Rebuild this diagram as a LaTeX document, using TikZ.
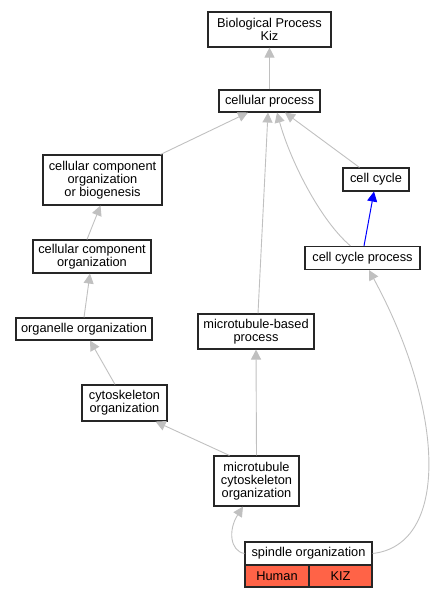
\documentclass[tikz,border=0pt]{standalone}
\usepackage{fontspec}
\setmainfont{Liberation Sans}
\usetikzlibrary{arrows.meta,calc}
\definecolor{edgegray}{RGB}{192,192,192}
\definecolor{tomatofill}{RGB}{255,99,71}
\tikzset{
  term/.style={draw=black!85, line width=1.1pt, fill=white, inner sep=0pt, align=center,
    font=\fontsize{12.8}{13.3}\selectfont},
  edge/.style={draw=edgegray, line width=0.9pt, -{Triangle[length=10pt,width=10pt]}},
  isa/.style={draw=blue, line width=1pt, -{Triangle[length=10pt,width=10pt]}},
}
\begin{document}
\begin{tikzpicture}[x=1pt,y=-1pt]
\useasboundingbox (0,0) rectangle (436,597);
\node[term, minimum width=123pt, minimum height=35pt] (bp) at (269.5,29.5) {Biological Process\\Kiz};
\node[term, minimum width=101pt, minimum height=22pt] (cp) at (269.5,101) {cellular process};
\node[term, minimum width=119pt, minimum height=50pt] (ccoob) at (102.5,180) {cellular component\\organization\\or biogenesis};
\node[term, minimum width=66pt, minimum height=23pt] (cc) at (376,179.5) {cell cycle};
\node[term, minimum width=115pt, minimum height=23pt] (ccp) at (362.5,258) {cell cycle process};
\node[term, minimum width=118pt, minimum height=33pt] (cco) at (92,256.5) {cellular component\\organization};
\node[term, minimum width=136pt, minimum height=22pt] (oo) at (84,329) {organelle organization};
\node[term, minimum width=116pt, minimum height=35pt] (mbp) at (256,331.5) {microtubule-based\\process};
\node[term, minimum width=85pt, minimum height=36pt] (cyto) at (124.5,403) {cytoskeleton\\organization};
\node[term, minimum width=85pt, minimum height=50pt] (mco) at (256.5,481) {microtubule\\cytoskeleton\\organization};
\node[term, minimum width=127pt, minimum height=23pt] (sp) at (308.5,553.5) {spindle organization};
\node[term, fill=tomatofill, minimum width=64pt, minimum height=22pt] (human) at (277,576) {Human};
\node[term, fill=tomatofill, minimum width=63pt, minimum height=22pt] (kiz) at (340.5,576) {KIZ};

\draw[edge] (cp.north) -- (bp.south);
\draw[edge] ($(ccoob.north east)+(-2,0)$) -- ($(cp.south)+(-21.5,0)$);
\draw[edge] ($(mbp.north)+(2,0)$) -- ($(cp.south)+(-1.5,0)$);
\draw[edge] ($(ccp.north)+(-12,0)$) .. controls (320,220) and (290,160) .. ($(cp.south)+(7.5,0)$);
\draw[edge] ($(cc.north west)+(17,0)$) -- ($(cp.south)+(15.5,0)$);
\draw[isa] ($(ccp.north)+(1.5,0)$) -- ($(cc.south)+(-2,0)$);
\draw[edge] ($(cco.north)+(-5,0)$) -- ($(ccoob.south)+(-2,0)$);
\draw[edge] (oo.north) -- ($(cco.south)+(-2,0)$);
\draw[edge] ($(cyto.north)+(-9.5,0)$) -- ($(oo.south)+(6,0)$);
\draw[edge] ($(mco.north west)+(16,0)$) -- ($(cyto.south east)+(-12,0)$);
\draw[edge] (mco.north) -- (mbp.south);
\draw[edge] (sp.west) .. controls (230,551) and (228,530) .. ($(mco.south)+(-13.5,0)$);
\draw[edge] (sp.east) .. controls (450,545) and (445,410) .. ($(ccp.south)+(6.5,0)$);
\end{tikzpicture}
\end{document}
